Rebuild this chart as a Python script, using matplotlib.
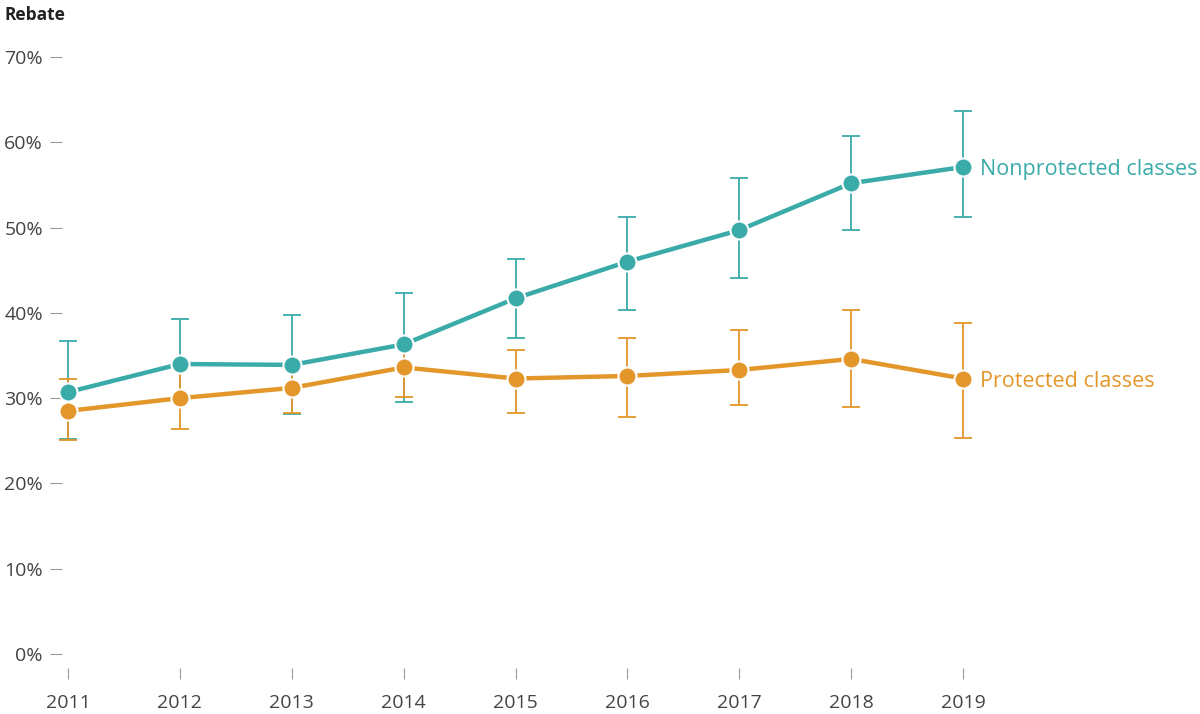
import numpy as np
import matplotlib.pyplot as plt

years = [2011, 2012, 2013, 2014, 2015, 2016, 2017, 2018, 2019]

nonprot = [30.7, 34.0, 33.9, 36.3, 41.7, 46.0, 49.7, 55.2, 57.1]
nonprot_hi = [36.7, 39.3, 39.7, 42.3, 46.3, 51.2, 55.8, 60.7, 63.7]
nonprot_lo = [25.2, 30.0, 28.1, 29.6, 37.0, 40.3, 44.1, 49.7, 51.2]

prot = [28.5, 30.0, 31.2, 33.6, 32.3, 32.6, 33.3, 34.6, 32.3]
prot_hi = [32.2, 33.8, 34.0, 36.5, 35.6, 37.1, 38.0, 40.3, 38.8]
prot_lo = [25.1, 26.4, 28.3, 30.1, 28.2, 27.8, 29.2, 29.0, 25.3]

yticks = [0, 10, 20, 30, 40, 50, 60, 70]

teal = '#3aaba8'
orange = '#e3962a'
grey = '#444444'

plt.rcParams['font.family'] = ['Open Sans', 'DejaVu Sans']

fig = plt.figure(figsize=(12, 7.14), dpi=100)
ax = fig.add_axes([68 / 1200, 1 - 654 / 714, (963 - 68) / 1200, (654 - 57) / 714])


def series(vals, lo, hi, color, label):
    vals = np.array(vals)
    err = [vals - np.array(lo), np.array(hi) - vals]
    ax.errorbar(years, vals, yerr=err, fmt='none', ecolor=color, elinewidth=1.3,
                capsize=6.5, capthick=1.3, clip_on=False, zorder=2)
    ax.plot(years, vals, color=color, lw=3.2, marker='o', ms=13,
            mfc=color, mec='white', mew=1.5, clip_on=False, zorder=3)
    ax.text(years[-1] + 0.15, vals[-1], label, color=color, fontsize=15.5,
            va='center_baseline', ha='left')


series(nonprot, nonprot_lo, nonprot_hi, teal, 'Nonprotected classes')
series(prot, prot_lo, prot_hi, orange, 'Protected classes')

ax.set_xlim(2011, 2019)
ax.set_ylim(0, 70)
ax.set_xticks(years)
ax.set_yticks(yticks)
ax.set_yticklabels([f'{v}%' for v in yticks])

for s in ax.spines.values():
    s.set_visible(False)
ax.spines['left'].set_position(('outward', 4))
ax.spines['bottom'].set_position(('outward', 10))
ax.tick_params(axis='y', length=9, width=0.8, color='#999999', pad=5,
               labelsize=14, labelcolor=grey)
ax.tick_params(axis='x', length=8, width=0.8, color='#999999', pad=11,
               labelsize=14, labelcolor=grey)

fig.text(5 / 1200, 1 - 15 / 714, 'Rebate', fontsize=12.5, fontweight='bold',
         color='#222222', ha='left', va='center')

fig.savefig('out.png', dpi=100, facecolor='white')
